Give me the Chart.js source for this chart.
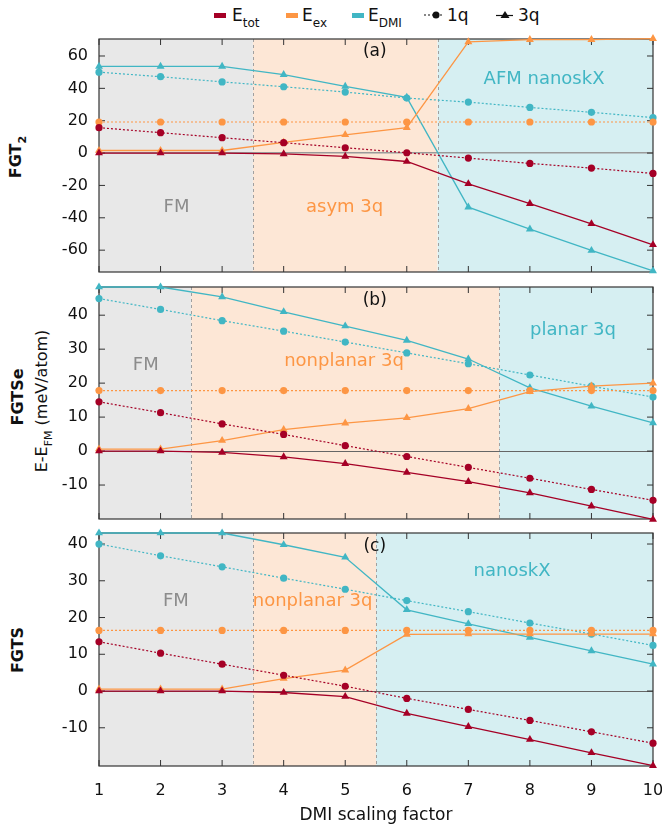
<!DOCTYPE html>
<html>
<head>
<meta charset="utf-8">
<script src="https://cdn.jsdelivr.net/npm/chart.js@4.4.1/dist/chart.umd.min.js"></script>
<style>
  body { margin: 0; background: #fff; }
  #fig { position: relative; width: 662px; height: 829px; overflow: hidden;
         font-family: "DejaVu Sans", sans-serif; color: #111; }
  #fig canvas { position: absolute; left: 0; }
  .sw { position: absolute; top: 13px; height: 5px; width: 12px; }
  .lg { position: absolute; top: 5px; font-size: 17px; line-height: 20px; white-space: nowrap; }
  .lg .s { font-size: 12px; position: relative; top: 6px; }
  .yt { position: absolute; white-space: nowrap; font-size: 16px; line-height: 20px;
        transform: translate(-50%, -50%) rotate(-90deg); }
  .yt.b { font-weight: bold; }
  .yt .s { font-size: 11px; position: relative; top: 5px; }
</style>
</head>
<body>
<div id="fig">
  <span class="sw" style="left:214px;background:#a50026"></span>
  <span class="lg" style="left:232px">E<span class="s">tot</span></span>
  <span class="sw" style="left:286px;background:#fd9644"></span>
  <span class="lg" style="left:302px">E<span class="s">ex</span></span>
  <span class="sw" style="left:352px;background:#41b6c4"></span>
  <span class="lg" style="left:368px">E<span class="s">DMI</span></span>
  <svg style="position:absolute;left:424px;top:9px" width="22" height="12">
    <line x1="0" y1="6" x2="20" y2="6" stroke="#111" stroke-width="1.2" stroke-dasharray="2,2"/>
    <circle cx="12" cy="6" r="3.5" fill="#111"/>
  </svg>
  <span class="lg" style="left:447px">1q</span>
  <svg style="position:absolute;left:496px;top:9px" width="20" height="12">
    <line x1="0" y1="6.5" x2="17" y2="6.5" stroke="#111" stroke-width="1.2"/>
    <polygon points="9,2 13.5,9 4.5,9" fill="#111"/>
  </svg>
  <span class="lg" style="left:518px">3q</span>

  <div class="yt b" style="left:17px;top:157px">FGT<span class="s">2</span></div>
  <div class="yt b" style="left:18px;top:397px">FGTSe</div>
  <div class="yt" style="left:43px;top:401px">E-E<span class="s">FM</span> (meV/atom)</div>
  <div class="yt b" style="left:18px;top:650px">FGTS</div>

  <canvas id="pa" width="662" height="252" style="top:30px"></canvas>
  <canvas id="pb" width="662" height="250" style="top:280px"></canvas>
  <canvas id="pc" width="662" height="305" style="top:524px"></canvas>
</div>
<script>
// DMI scaling factor
const xVals = [1, 2, 3, 4, 5, 6, 7, 8, 9, 10];
const xTicks = [1, 2, 3, 4, 5, 6, 7, 8, 9, 10];

// (a) FGT2
const fgt2Tot1q = [15.7, 12.6, 9.5, 6.4, 3.3, 0.2, -3.1, -6.4, -9.3, -12.6];
const fgt2Tot3q = [0, 0, 0, -0.5, -2.1, -5.2, -19.0, -31.3, -43.7, -56.7];
const fgt2Ex1q = [19.2, 19.2, 19.2, 19.2, 19.2, 19.2, 19.2, 19.2, 19.2, 19.2];
const fgt2Ex3q = [1.6, 1.6, 1.6, 6.6, 11.3, 15.7, 68.7, 70.1, 70.1, 70.7];
const fgt2Dmi1q = [50.0, 47.2, 44.0, 41.0, 37.7, 34.0, 31.5, 28.2, 25.2, 21.9];
const fgt2Dmi3q = [53.6, 53.6, 53.6, 48.5, 41.2, 34.4, -33.4, -47.0, -60.2, -72.8];
const fgt2Ticks = [-60, -40, -20, 0, 20, 40, 60];

// (b) FGTSe
const fgtseTot1q = [14.5, 11.3, 8.0, 4.9, 1.6, -1.6, -4.8, -8.0, -11.3, -14.5];
const fgtseTot3q = [0, 0, -0.4, -1.7, -3.7, -6.3, -9.0, -12.3, -16.2, -20.1];
const fgtseEx1q = [17.8, 17.8, 17.8, 17.8, 17.8, 17.8, 17.8, 17.8, 17.8, 17.8];
const fgtseEx3q = [0.6, 0.6, 3.1, 6.3, 8.2, 9.8, 12.5, 17.5, 19.1, 20.0];
const fgtseDmi1q = [44.9, 41.7, 38.4, 35.3, 32.1, 28.9, 25.7, 22.4, 19.1, 15.9];
const fgtseDmi3q = [48.3, 48.3, 45.4, 41.0, 36.8, 32.6, 27.1, 18.6, 13.2, 8.3];
const fgtseTicks = [-10, 0, 10, 20, 30, 40];

// (c) FGTS
const fgtsTot1q = [13.4, 10.3, 7.3, 4.3, 1.3, -2.0, -5.0, -8.0, -11.1, -14.2];
const fgtsTot3q = [0, 0, 0, -0.4, -1.5, -6.1, -9.7, -13.2, -16.8, -20.3];
const fgtsEx1q = [16.5, 16.5, 16.5, 16.5, 16.5, 16.5, 16.5, 16.5, 16.5, 16.5];
const fgtsEx3q = [0.5, 0.5, 0.5, 3.4, 5.7, 15.4, 15.5, 15.5, 15.5, 15.5];
const fgtsDmi1q = [40.0, 36.8, 33.8, 30.7, 27.7, 24.6, 21.6, 18.5, 15.5, 12.4];
const fgtsDmi3q = [43.0, 43.0, 43.0, 39.8, 36.4, 22.1, 18.3, 14.6, 10.9, 7.3];
const fgtsTicks = [-10, 0, 10, 20, 30, 40];

const RED = '#a50026', ORANGE = '#fd9644', CYAN = '#41b6c4';
const BG_FM = '#e8e8e8', BG_ORANGE = '#fde7d6', BG_CYAN = '#d6eff2';
const FONT = '"DejaVu Sans", sans-serif';

Chart.defaults.font.family = FONT;
Chart.defaults.color = '#111';

function series(values, color, q) {
  return {
    data: xVals.map((x, i) => ({ x: x, y: values[i] })),
    borderColor: color,
    backgroundColor: color,
    borderWidth: q === 1 ? 1.2 : 1.3,
    borderDash: q === 1 ? [2, 2] : [],
    pointStyle: q === 1 ? 'circle' : 'triangle',
    pointRadius: q === 1 ? 3.6 : 4.6,
    pointBorderWidth: 0,
    tension: 0,
    clip: false
  };
}

// phase regions, region labels, frame and inward ticks
function framePlugin(regions, notes) {
  return {
    id: 'frame',
    beforeDraw(chart) {
      const { ctx, chartArea: a, scales: { x } } = chart;
      ctx.save();
      regions.forEach(r => {
        const x0 = x.getPixelForValue(r.from), x1 = x.getPixelForValue(r.to);
        ctx.fillStyle = r.fill;
        ctx.fillRect(x0, a.top, x1 - x0, a.bottom - a.top);
      });
      ctx.strokeStyle = '#a0a0a0';
      ctx.lineWidth = 1;
      ctx.setLineDash([3, 3]);
      regions.slice(1).forEach(r => {
        const px = Math.round(x.getPixelForValue(r.from)) + 0.5;
        ctx.beginPath(); ctx.moveTo(px, a.top); ctx.lineTo(px, a.bottom); ctx.stroke();
      });
      ctx.restore();
    },
    beforeDatasetsDraw(chart) {
      const { ctx, chartArea: a, scales: { x, y } } = chart;
      ctx.save();
      ctx.textAlign = 'center';
      ctx.textBaseline = 'middle';
      notes.forEach(n => {
        ctx.font = (n.size || 18) + 'px ' + FONT;
        ctx.fillStyle = n.color;
        ctx.fillText(n.text, x.getPixelForValue(n.x), y.getPixelForValue(n.y));
      });
      ctx.strokeStyle = '#333';
      ctx.lineWidth = 1.2;
      ctx.strokeRect(a.left, a.top, a.right - a.left, a.bottom - a.top);
      ctx.lineWidth = 1;
      ctx.beginPath();
      x.ticks.forEach(t => {
        const px = x.getPixelForValue(t.value);
        ctx.moveTo(px, a.top); ctx.lineTo(px, a.top + 6);
        ctx.moveTo(px, a.bottom); ctx.lineTo(px, a.bottom - 6);
      });
      y.ticks.forEach(t => {
        const py = y.getPixelForValue(t.value);
        ctx.moveTo(a.left, py); ctx.lineTo(a.left + 6, py);
        ctx.moveTo(a.right, py); ctx.lineTo(a.right - 6, py);
      });
      ctx.stroke();
      ctx.restore();
    }
  };
}

function panel(id, cfg) {
  const bottom = !!cfg.bottom;
  return new Chart(document.getElementById(id), {
    type: 'line',
    data: { datasets: cfg.datasets },
    options: {
      responsive: false,
      animation: false,
      events: [],
      layout: { padding: { top: cfg.padTop, bottom: cfg.padBottom, left: 0, right: 9 }, autoPadding: false },
      plugins: { legend: { display: false }, tooltip: { enabled: false } },
      scales: {
        x: {
          type: 'linear', min: 1, max: 10,
          afterBuildTicks: s => { s.ticks = xTicks.map(v => ({ value: v })); },
          afterFit: s => { s.height = bottom ? 60 : 0; s.paddingLeft = 0; s.paddingRight = 0; },
          grid: { display: false, drawTicks: false },
          border: { display: false },
          ticks: { display: bottom, padding: 15, font: { size: 16 }, color: '#111' },
          title: { display: bottom, text: 'DMI scaling factor', font: { size: 17 }, color: '#111', padding: 0 }
        },
        y: {
          min: cfg.min, max: cfg.max,
          afterBuildTicks: s => { s.ticks = cfg.ticks.map(v => ({ value: v })); },
          afterFit: s => { s.width = 99; s.paddingTop = 0; s.paddingBottom = 0; },
          grid: {
            drawTicks: false,
            color: c => (c.tick && c.tick.value === 0) ? cfg.zeroColor : 'rgba(0,0,0,0)',
            lineWidth: cfg.zeroWidth
          },
          border: { display: false },
          ticks: { padding: 11, font: { size: 16 }, color: '#111' }
        }
      }
    },
    plugins: [framePlugin(cfg.regions, cfg.notes)]
  });
}

panel('pa', {
  padTop: 9, padBottom: 10, min: -73.5, max: 70.5, ticks: fgt2Ticks,
  zeroColor: '#9a9a9a', zeroWidth: 1.6,
  regions: [
    { from: 1, to: 3.5, fill: BG_FM },
    { from: 3.5, to: 6.5, fill: BG_ORANGE },
    { from: 6.5, to: 10, fill: BG_CYAN }
  ],
  notes: [
    { text: 'FM', x: 2.26, y: -33.8, color: '#8c8c8c' },
    { text: 'asym 3q', x: 4.99, y: -33.8, color: ORANGE },
    { text: 'AFM nanoskX', x: 8.23, y: 45.3, color: CYAN },
    { text: '(a)', x: 5.48, y: 62.8, color: '#111', size: 17 }
  ],
  datasets: [
    series(fgt2Tot3q, RED, 3), series(fgt2Tot1q, RED, 1),
    series(fgt2Ex3q, ORANGE, 3), series(fgt2Ex1q, ORANGE, 1),
    series(fgt2Dmi3q, CYAN, 3), series(fgt2Dmi1q, CYAN, 1)
  ]
});

panel('pb', {
  padTop: 7, padBottom: 11, min: -20, max: 48.3, ticks: fgtseTicks,
  zeroColor: '#666', zeroWidth: 1,
  regions: [
    { from: 1, to: 2.5, fill: BG_FM },
    { from: 2.5, to: 7.5, fill: BG_ORANGE },
    { from: 7.5, to: 10, fill: BG_CYAN }
  ],
  notes: [
    { text: 'FM', x: 1.76, y: 25.3, color: '#8c8c8c' },
    { text: 'nonplanar 3q', x: 4.98, y: 26.3, color: ORANGE },
    { text: 'planar 3q', x: 8.7, y: 35.6, color: CYAN },
    { text: '(b)', x: 5.48, y: 44.4, color: '#111', size: 17 }
  ],
  datasets: [
    series(fgtseTot3q, RED, 3), series(fgtseTot1q, RED, 1),
    series(fgtseEx3q, ORANGE, 3), series(fgtseEx1q, ORANGE, 1),
    series(fgtseDmi3q, CYAN, 3), series(fgtseDmi1q, CYAN, 1)
  ]
});

panel('pc', {
  padTop: 9, padBottom: 3, min: -20.4, max: 43, ticks: fgtsTicks, bottom: true,
  zeroColor: '#666', zeroWidth: 1,
  regions: [
    { from: 1, to: 3.5, fill: BG_FM },
    { from: 3.5, to: 5.5, fill: BG_ORANGE },
    { from: 5.5, to: 10, fill: BG_CYAN }
  ],
  notes: [
    { text: 'FM', x: 2.25, y: 24.3, color: '#8c8c8c' },
    { text: 'nonplanar 3q', x: 4.47, y: 24.5, color: ORANGE },
    { text: 'nanoskX', x: 7.71, y: 32.5, color: CYAN },
    { text: '(c)', x: 5.48, y: 39.2, color: '#111', size: 17 }
  ],
  datasets: [
    series(fgtsTot3q, RED, 3), series(fgtsTot1q, RED, 1),
    series(fgtsEx3q, ORANGE, 3), series(fgtsEx1q, ORANGE, 1),
    series(fgtsDmi3q, CYAN, 3), series(fgtsDmi1q, CYAN, 1)
  ]
});
</script>
</body>
</html>
